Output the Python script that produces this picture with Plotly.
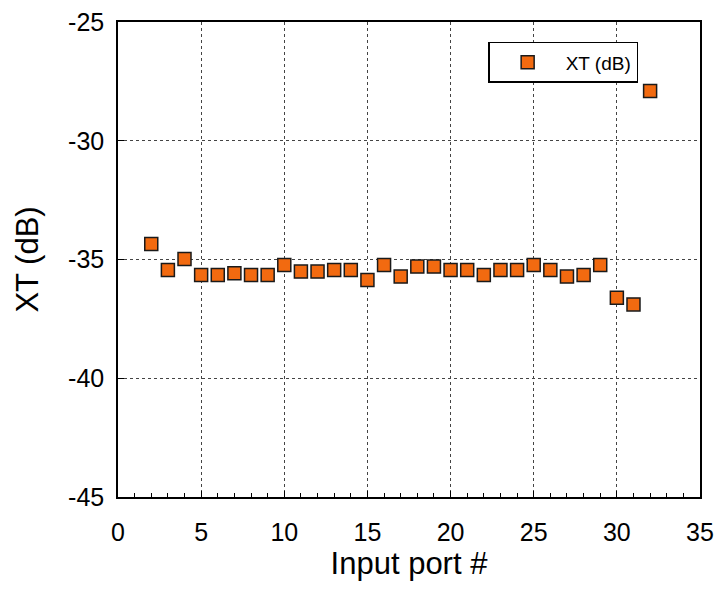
import plotly.graph_objects as go

# Crosstalk per input port
ports = list(range(2, 33))
xt_db = [-34.35, -35.44, -34.98, -35.65, -35.65, -35.58, -35.65, -35.65, -35.23,
         -35.51, -35.51, -35.44, -35.44, -35.86, -35.23, -35.72, -35.30, -35.30,
         -35.44, -35.44, -35.65, -35.44, -35.44, -35.23, -35.44, -35.72, -35.65,
         -35.23, -36.61, -36.89, -27.91]

x_ticks = [0, 5, 10, 15, 20, 25, 30, 35]
y_ticks = [-45, -40, -35, -30, -25]
y_tick_text = ["-45", "-40", "-35", "-30", "-25"]

font_family = "Liberation Sans, Arial, sans-serif"

fig = go.Figure()
fig.add_trace(go.Scatter(
    x=ports, y=xt_db, mode="markers", name="XT (dB)",
    marker=dict(symbol="square", size=13, color="#f26a10",
                line=dict(color="#1a1a1a", width=1.5)),
))

axis_common = dict(
    showline=True, linecolor="black", linewidth=1.5, mirror=True,
    ticks="inside", ticklen=6, tickcolor="black", tickwidth=1,
    showgrid=True, gridcolor="#444444", gridwidth=1, griddash="dot",
    zeroline=False, automargin=False,
    tickfont=dict(size=25, color="black", family=font_family),
)

fig.update_xaxes(
    range=[0, 35], tickvals=x_ticks, ticklabelstandoff=12,
    minor=dict(dtick=1, ticks="inside", ticklen=4, tickcolor="black", showgrid=False),
    title=dict(text="Input port #", font=dict(size=31, color="black", family=font_family),
               standoff=4),
    **axis_common,
)
fig.update_yaxes(
    range=[-45, -25], tickvals=y_ticks, ticktext=y_tick_text, ticklabelstandoff=7,
    title=dict(text="XT (dB)", font=dict(size=31, color="black", family=font_family),
               standoff=20),
    **axis_common,
)

fig.update_layout(
    width=721, height=590,
    margin=dict(l=118, r=21, t=22, b=93),
    plot_bgcolor="white", paper_bgcolor="white",
    showlegend=True,
    legend=dict(
        x=0.636, y=0.958, xanchor="left", yanchor="top",
        bgcolor="white", bordercolor="black", borderwidth=1.5,
        font=dict(size=19, color="black", family=font_family),
        itemwidth=66,
    ),
)

fig.write_html("out.html")
